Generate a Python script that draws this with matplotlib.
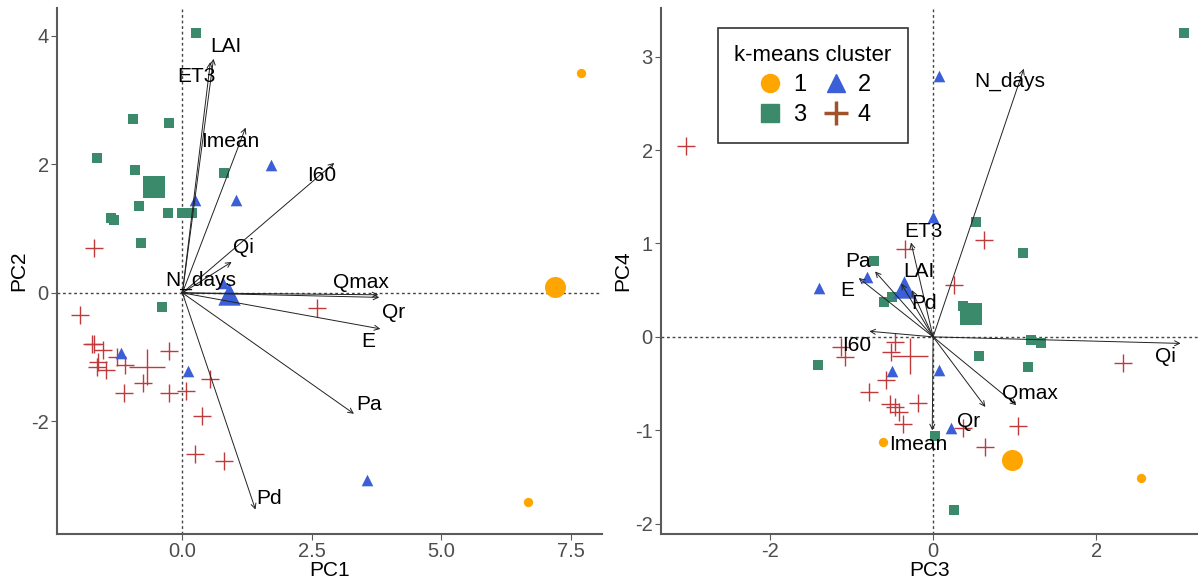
import numpy as np
import matplotlib
matplotlib.use("Agg")
import matplotlib.pyplot as plt
from matplotlib.lines import Line2D

plt.rcParams["font.family"] = ["Liberation Sans", "DejaVu Sans"]
plt.rcParams["axes.unicode_minus"] = False

# ---- data: PC1 / PC2 scores by cluster ----
c1_pc12 = [(7.69, 3.42), (6.67, -3.25)]
c1_cent12 = (7.19, 0.09)
c2_pc12 = [(0.25, 1.45), (1.03, 1.45), (1.71, 1.99), (0.79, 0.15), (-1.18, -0.93), (0.11, -1.21), (3.57, -2.91)]
c2_cent12 = (0.89, -0.02)
c3_pc12 = [(0.27, 4.04), (-0.95, 2.71), (-0.25, 2.64), (-1.65, 2.10), (-0.91, 1.91), (0.81, 1.87),
           (-0.83, 1.35), (-1.38, 1.16), (-1.33, 1.13), (-0.27, 1.24), (0.0, 1.24), (0.19, 1.24),
           (-0.79, 0.78), (-0.39, -0.22)]
c3_cent12 = (-0.54, 1.65)
c4_pc12 = [(-1.71, 0.70), (-1.98, -0.34), (-1.75, -0.79), (-1.71, -0.79), (-1.53, -0.89), (-1.63, -1.07),
           (-1.65, -1.15), (-1.47, -1.20), (-1.26, -0.99), (-1.10, -1.12), (-0.76, -1.40), (-1.12, -1.56),
           (-0.25, -0.90), (-0.25, -1.56), (0.06, -1.52), (0.54, -1.34), (0.37, -1.91), (0.25, -2.50),
           (0.81, -2.61), (2.60, -0.24)]
c4_cent12 = (-0.68, -1.15)

# loadings PC1/PC2: name, arrow tip, label position
vars12 = ["LAI", "ET3", "Imean", "I60", "Qi", "N_days", "Qmax", "Qr", "E", "Pa", "Pd"]
tips12 = [(0.60, 3.64), (0.54, 3.59), (1.22, 2.57), (2.93, 2.02), (0.95, 0.48), (-0.04, 0.02),
          (3.78, -0.03), (3.80, -0.07), (3.82, -0.56), (3.31, -1.88), (1.41, -3.37)]
labs12 = [(0.83, 3.83), (0.27, 3.36), (0.93, 2.35), (2.69, 1.82), (1.18, 0.70), (0.35, 0.19),
          (3.45, 0.16), (4.07, -0.31), (3.59, -0.76), (3.60, -1.73), (1.67, -3.20)]

# ---- data: PC3 / PC4 scores by cluster ----
c1_pc34 = [(-0.61, -1.12), (2.55, -1.51)]
c1_cent34 = (0.97, -1.32)
c2_pc34 = [(0.07, 2.79), (0.0, 1.28), (-0.81, 0.64), (-1.40, 0.52), (-0.50, -0.36), (0.07, -0.35), (0.22, -0.98)]
c2_cent34 = (-0.36, 0.53)
c3_pc34 = [(3.07, 3.25), (0.53, 1.23), (1.10, 0.90), (-0.72, 0.81), (-0.60, 0.37), (-0.50, 0.43),
           (0.37, 0.33), (0.56, -0.20), (-1.41, -0.30), (1.20, -0.03), (1.32, -0.07), (1.16, -0.32),
           (0.02, -1.06), (0.26, -1.85)]
c3_cent34 = (0.47, 0.25)
c4_pc34 = [(-3.02, 2.04), (0.62, 1.04), (-0.34, 0.94), (0.26, 0.55), (-0.47, -0.05), (-0.51, -0.16),
           (-1.13, -0.11), (-1.08, -0.22), (-0.58, -0.46), (-0.78, -0.59), (-0.53, -0.72), (-0.47, -0.75),
           (-0.42, -0.80), (-0.37, -0.93), (-0.18, -0.71), (2.33, -0.28), (1.04, -0.95), (0.64, -1.18),
           (0.37, -0.98)]
c4_cent34 = (-0.28, -0.21)

vars34 = ["N_days", "ET3", "Pa", "E", "LAI", "Pd", "I60", "Qi", "Qmax", "Qr", "Imean"]
tips34 = [(1.11, 2.87), (-0.27, 1.01), (-0.71, 0.70), (-0.91, 0.63), (-0.39, 0.57), (-0.26, 0.50),
          (-0.78, 0.06), (3.03, -0.07), (1.02, -0.73), (0.64, -0.75), (-0.01, -1.0)]
labs34 = [(0.94, 2.73), (-0.12, 1.13), (-0.92, 0.81), (-1.05, 0.50), (-0.18, 0.70), (-0.11, 0.36),
          (-0.93, -0.09), (2.85, -0.21), (1.19, -0.61), (0.43, -0.91), (-0.18, -1.15)]

col1 = "#FFA500"
col2 = "#3A5FD6"
col3 = "#3B8A6B"
col4 = "#C0393B"
tick_col = "#4D4D4D"


def panel(ax, c1, cen1, c2, cen2, c3, cen3, c4, cen4, names, tips, labs, xl, yl):
    ax.axhline(0, color="#444444", ls=(0, (2, 2)), lw=1, zorder=1)
    ax.axvline(0, color="#444444", ls=(0, (2, 2)), lw=1, zorder=1)
    c1 = np.array(c1); c2 = np.array(c2); c3 = np.array(c3); c4 = np.array(c4)
    ax.scatter(c3[:, 0], c3[:, 1], marker="s", s=55, color=col3, zorder=3, lw=0)
    ax.scatter([cen3[0]], [cen3[1]], marker="s", s=230, color=col3, zorder=3, lw=0)
    ax.scatter(c4[:, 0], c4[:, 1], marker="+", s=170, color=col4, zorder=3, lw=1)
    ax.scatter([cen4[0]], [cen4[1]], marker="+", s=650, color=col4, zorder=3, lw=1)
    ax.scatter(c2[:, 0], c2[:, 1], marker="^", s=70, color=col2, zorder=3, lw=0)
    ax.scatter([cen2[0]], [cen2[1]], marker="^", s=260, color=col2, zorder=3, lw=0)
    ax.scatter(c1[:, 0], c1[:, 1], marker="o", s=45, color=col1, zorder=3, lw=0)
    ax.scatter([cen1[0]], [cen1[1]], marker="o", s=230, color=col1, zorder=3, lw=0)
    for n, t, l in zip(names, tips, labs):
        ax.annotate("", xy=t, xytext=(0, 0),
                    arrowprops=dict(arrowstyle="->", lw=0.7, color="#222222",
                                    shrinkA=0, shrinkB=0, mutation_scale=9), zorder=4)
        ax.text(l[0], l[1], n, fontsize=15, ha="center", va="center", color="black", zorder=5)
    ax.set_xlabel(xl, fontsize=15, labelpad=0)
    ax.set_ylabel(yl, fontsize=15, labelpad=2)
    for s in ["top", "right"]:
        ax.spines[s].set_visible(False)
    for s in ["left", "bottom"]:
        ax.spines[s].set_color("#5A5A5A")
        ax.spines[s].set_linewidth(1.5)
    ax.tick_params(colors="#5A5A5A", labelcolor=tick_col, labelsize=14.5, length=4, pad=2)


fig = plt.figure(figsize=(11.98, 5.79), dpi=100)
ax1 = fig.add_axes([0.0476, 0.0777, 0.455, 0.9085])
ax2 = fig.add_axes([0.5518, 0.0777, 0.448, 0.9085])

panel(ax1, c1_pc12, c1_cent12, c2_pc12, c2_cent12, c3_pc12, c3_cent12, c4_pc12, c4_cent12,
      vars12, tips12, labs12, "PC1", "PC2")
ax1.set_xlim(-2.42, 8.10)
ax1.set_ylim(-3.75, 4.43)
ax1.set_xticks([0, 2.5, 5, 7.5])
ax1.set_xticklabels(["0.0", "2.5", "5.0", "7.5"])
ax1.set_yticks([-2, 0, 2, 4])

panel(ax2, c1_pc34, c1_cent34, c2_pc34, c2_cent34, c3_pc34, c3_cent34, c4_pc34, c4_cent34,
      vars34, tips34, labs34, "PC3", "PC4")
ax2.set_xlim(-3.33, 3.24)
ax2.set_ylim(-2.11, 3.52)
ax2.set_xticks([-2, 0, 2])
ax2.set_yticks([-2, -1, 0, 1, 2, 3])

handles = [
    Line2D([], [], marker="o", ls="", color=col1, markersize=13),
    Line2D([], [], marker="^", ls="", color=col2, markersize=13),
    Line2D([], [], marker="s", ls="", color=col3, markersize=13),
    Line2D([], [], marker="+", ls="", color="#A0522D", markersize=17, markeredgewidth=2.5),
]
order = [0, 2, 1, 3]
leg = ax2.legend([handles[i] for i in order], [str(i + 1) for i in order], ncol=2,
                 title="k-means cluster", loc="upper left", bbox_to_anchor=(0.106, 0.962),
                 borderaxespad=0, fontsize=17, title_fontsize=16, frameon=True, fancybox=False,
                 edgecolor="black", handletextpad=0.3, columnspacing=0.6,
                 labelspacing=0.35, borderpad=0.7, handlelength=1.3)
leg.get_frame().set_linewidth(1.2)

fig.savefig("out.png", dpi=100)
